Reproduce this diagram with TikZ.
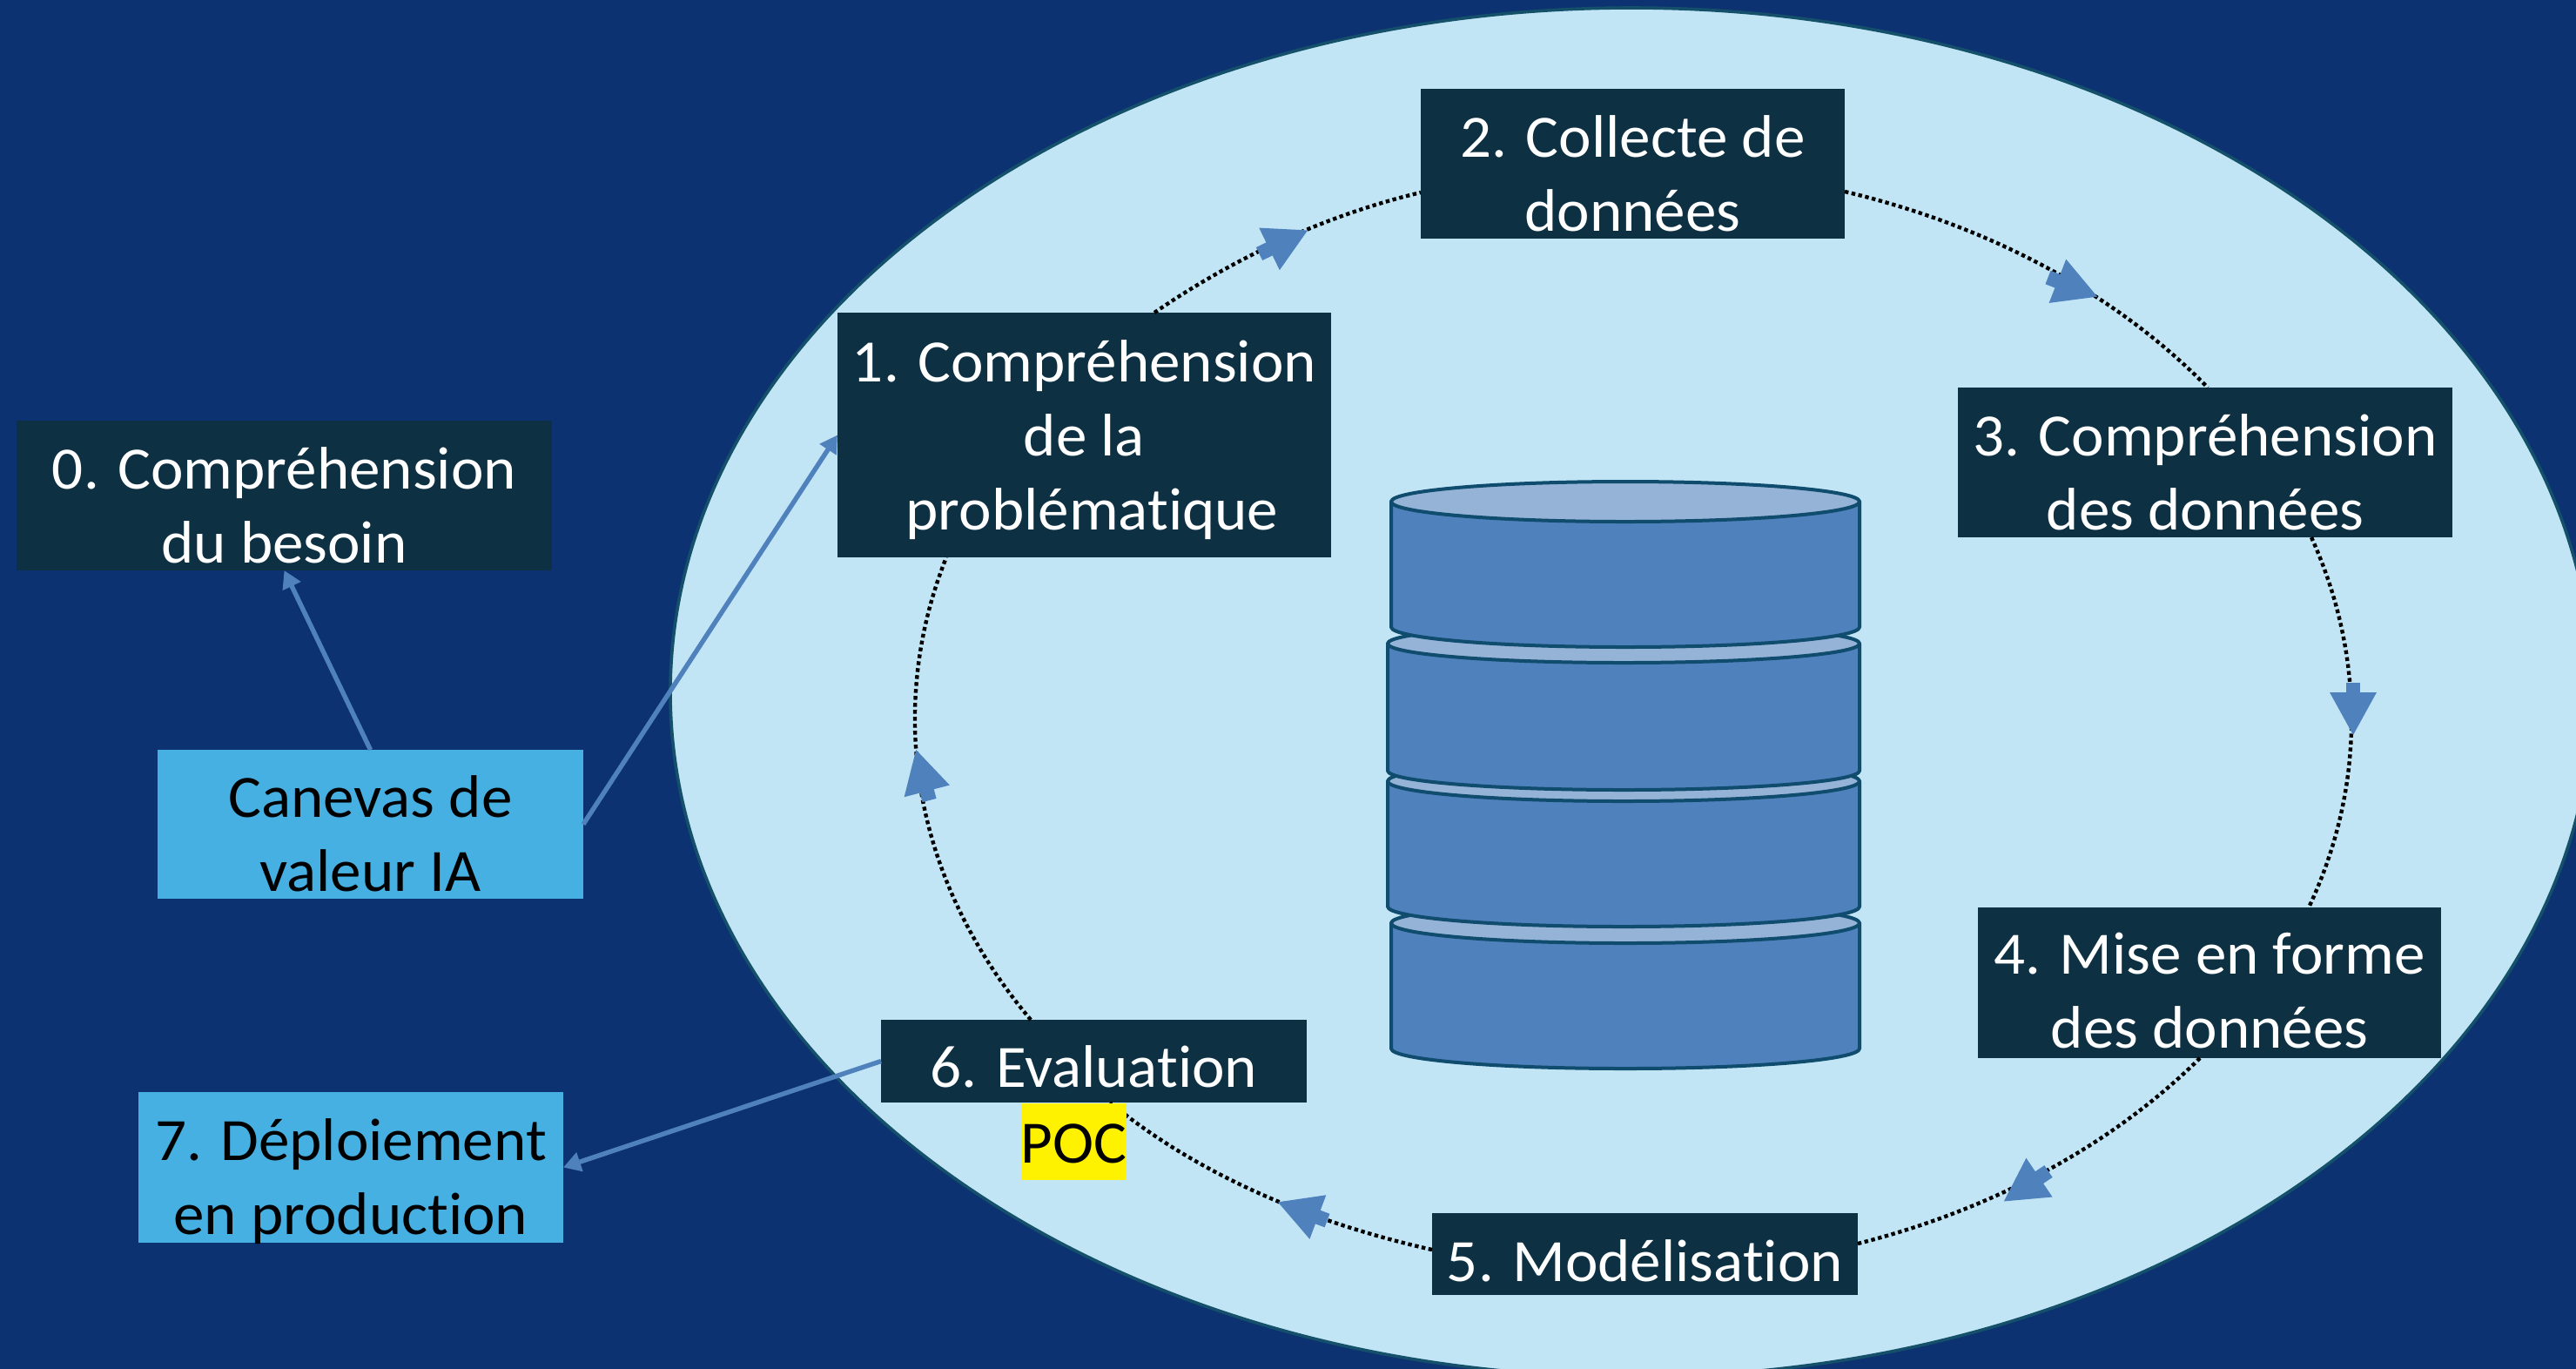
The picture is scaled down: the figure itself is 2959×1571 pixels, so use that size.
\documentclass[tikz,border=0pt]{standalone}
\usepackage{fontspec}
\setmainfont[FakeStretch=1.03,RawFeature=-liga]{Carlito}
\usetikzlibrary{arrows.meta,calc}
\definecolor{bgblue}{HTML}{0C3272}
\definecolor{paleblue}{HTML}{C1E5F5}
\definecolor{rimblue}{HTML}{15506B}
\definecolor{darkbox}{HTML}{0D3042}
\definecolor{skybox}{HTML}{46B0E2}
\definecolor{stepblue}{HTML}{4F81BD}
\definecolor{disktop}{HTML}{95B3D7}
\definecolor{diskline}{HTML}{0F4C6E}
\newcommand\boxtext[2]{\raisebox{#1pt}[0pt][0pt]{\begin{tabular}[b]{@{}c@{}}#2\end{tabular}}}
\newcommand\dbdisk[5]{%
  \pgfmathsetmacro\drx{(#2-#1)/4}%
  \draw[disk,fill=stepblue] (#1,#3) -- (#1,#5)
     arc[start angle=180,end angle=360,x radius=\drx pt,y radius=#4*0.5pt] -- (#2,#3) -- cycle;
  \draw[disk,fill=disktop] ({(#1+#2)/2},#3) ellipse[x radius=\drx pt,y radius=#4*0.5pt];
}
\tikzset{
  x=0.5pt,y=-0.5pt,
  boxbase/.style={inner sep=0pt,outer sep=0pt,font=\fontsize{34.5}{42.5}\selectfont},
  darkstep/.style={boxbase,fill=darkbox,text=white},
  skystep/.style={boxbase,fill=skybox,text=black},
  pocbox/.style={boxbase,fill=yellow,text=black},
  disk/.style={draw=diskline,line width=2pt,line join=round},
  flow/.style={draw=black,line width=2.2pt,dash pattern=on 2.2pt off 1.8pt},
  bigarrow/.style={draw=stepblue,line width=8.3pt,-{Triangle[length=25pt,width=25pt,sep=0pt]},shorten >=0pt},
  link/.style={draw=stepblue,line width=2.7pt,-{Triangle[length=10pt,width=11pt]}},
}
\begin{document}
\begin{tikzpicture}
\useasboundingbox (0,0) rectangle (2959,1571);
\begin{scope}
\clip (-10,-10) rectangle (2969,1581);
\fill[bgblue] (-10,-10) rectangle (2969,1581);
\draw[draw=rimblue,fill=paleblue,line width=1.8pt] (1874,795) ellipse[x radius=552pt,y radius=393pt];
\end{scope}
% database
\dbdisk{1598}{2136}{1060}{23}{1204}
\dbdisk{1594}{2136}{897}{23}{1041}
\dbdisk{1594}{2136}{739}{22}{885}
\dbdisk{1598}{2136}{576}{23}{720}
% boxes
\node[darkstep,minimum width=307.5pt,minimum height=86pt] (n0) at (326.5,569) {\boxtext{-38.5}{0. Compréhension\\du besoin}};
\node[darkstep,minimum width=283.5pt,minimum height=140.5pt] (n1) at (1245.5,499.5) {\boxtext{-54.5}{1. Compréhension\\de la\\\hspace*{9pt}problématique}};
\node[darkstep,minimum width=243.5pt,minimum height=86pt] (n2) at (1875.5,188) {\boxtext{-38.5}{2. Collecte de\\données}};
\node[darkstep,minimum width=284pt,minimum height=86pt] (n3) at (2533,531) {\boxtext{-38.5}{3. Compréhension\\des données}};
\node[darkstep,minimum width=266pt,minimum height=86.5pt] (n4) at (2538,1128.5) {\boxtext{-37.5}{4. Mise en forme\\des données}};
\node[darkstep,minimum width=244.5pt,minimum height=47pt] (n5) at (1889.5,1440) {\boxtext{-15.5}{5. Modélisation}};
\node[darkstep,minimum width=244.5pt,minimum height=47.5pt] (n6) at (1256.5,1218.5) {\boxtext{-15}{6. Evaluation}};
\node[skystep,minimum width=244.5pt,minimum height=85.5pt] (n8) at (425.5,946.5) {\boxtext{-38.5}{Canevas de\\valeur IA}};
\node[skystep,minimum width=244pt,minimum height=86.5pt] (n7) at (403,1340.5) {\boxtext{-38.5}{7. Déploiement\\en production}};
% cycle connectors
\draw[flow] ($(n1.north)+(80.5,0)$) .. controls +(88.4,-60.7) and +(-113.2,27) .. ($(n2.west)+(0,33)$);
\draw[flow] ($(n2.east)+(0,32)$) .. controls +(166.5,39.4) and +(-104.6,-107.1) .. ($(n3.north)+(3,0)$);
\draw[flow] ($(n3.south)+(122,0)$) .. controls +(62.3,137.5) and +(64.5,-136.9) .. ($(n4.north)+(114,0)$);
\draw[flow] ($(n4.south)+(-11,0)$) .. controls +(-100.7,99.6) and +(156,-39.4) .. ($(n5.east)+(0,-12)$);
\draw[flow] ($(n5.west)+(0,-5)$) .. controls +(-141.3,-31.8) and +(100.8,82.5) .. ($(n6.south)+(18.5,0)$);
\draw[flow] ($(n6.north)+(-72.5,0)$) .. controls +(-132.8,-157.2) and +(-71.3,179.2) .. ($(n1.south)+(-158.5,0)$);
\node[pocbox,minimum width=60.5pt,minimum height=44pt] (poc) at (1233.5,1311) {\boxtext{-12}{POC}};
% arrowheads on the cycle
\coordinate (t1) at (1446.5,291.5); \coordinate (h1) at (1503,264);
\coordinate (t2) at (2352.5,318.5); \coordinate (h2) at (2410,341);
\coordinate (t3) at (2703,784);     \coordinate (h3) at (2703,845);
\coordinate (t4) at (2353,1345);    \coordinate (h4) at (2301,1380);
\coordinate (t5) at (1524.5,1401.5);\coordinate (h5) at (1467,1380);
\coordinate (t6) at (1067.5,919);   \coordinate (h6) at (1052,860);
\foreach \i in {1,...,6} \draw[bigarrow] (t\i) -- (h\i);
% links
\draw[link] (n8.north) -- (n0.south);
\draw[link] (n8.east) -- (n1.west);
\draw[link] (n6.west) -- (n7.east);
\end{tikzpicture}
\end{document}
